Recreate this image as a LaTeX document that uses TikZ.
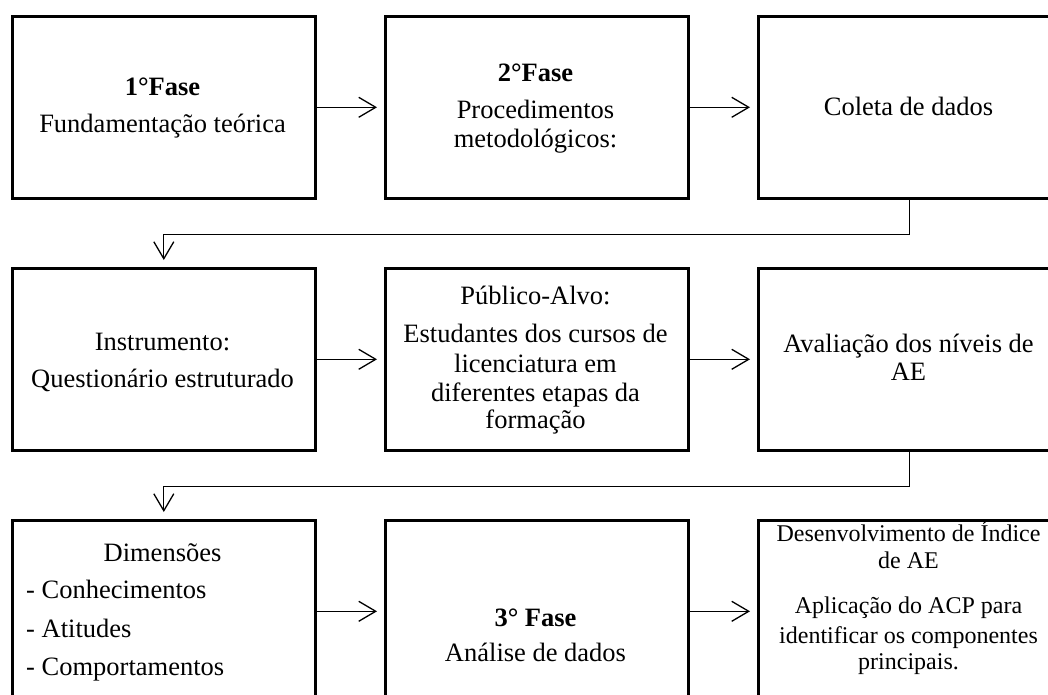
\documentclass[tikz,border=0pt]{standalone}
\usepackage{fontspec}
\setmainfont{Liberation Serif}
\usetikzlibrary{arrows.meta}
\begin{document}
\begin{tikzpicture}[x=1pt,y=-1pt,
 box/.style={draw, line width=2.6pt, minimum width=303pt, minimum height=182pt, inner sep=0pt, anchor=north west},
 big/.style={font=\fontsize{26.5}{29}\selectfont, anchor=base, inner sep=0pt},
 small/.style={font=\fontsize{24}{27}\selectfont, anchor=base, inner sep=0pt},
 conn/.style={line width=1.3pt, -{Straight Barb[length=17pt,width=20pt,line width=1.3pt]}, shorten >=7pt}]
\useasboundingbox (0,0) rectangle (1048,695);
\fill[white] (0,0) rectangle (1048,695);
\clip (0,0) rectangle (1048,695);
% boxes
\node[box] (b1) at (11,15) {};
\node[box] (b2) at (384,15) {};
\node[box] (b3) at (757,15) {};
\node[box] (b4) at (11,267) {};
\node[box] (b5) at (384,267) {};
\node[box] (b6) at (757,267) {};
\node[box] (b7) at (11,519) {};
\node[box] (b8) at (384,519) {};
\node[box] (b9) at (757,519) {};
% texts row 1
\node[big] (t1a) at (162.5,96) {\bfseries 1°Fase};
\node[big] (t1b) at (162.5,133) {Fundamentação teórica};
\node[big] (t2a) at (535.5,82) {\bfseries 2°Fase};
\node[big] (t2b) at (535.5,119) {Procedimentos};
\node[big] (t2c) at (535.5,148) {metodológicos:};
\node[big] (t3a) at (908.5,116) {Coleta de dados};
% texts row 2
\node[big] (t4a) at (162.5,350) {Instrumento:};
\node[big] (t4b) at (162.5,387) {Questionário estruturado};
\node[big] (t5a) at (535.5,304) {Público-Alvo:};
\node[big] (t5b) at (535.5,342) {Estudantes dos cursos de};
\node[big] (t5c) at (535.5,372) {licenciatura em};
\node[big] (t5d) at (535.5,401) {diferentes etapas da};
\node[big] (t5e) at (535.5,428) {formação};
\node[big] (t6a) at (908.5,352) {Avaliação dos níveis de};
\node[big] (t6b) at (908.5,380) {AE};
% texts row 3
\node[big] (t7a) at (162.5,561) {Dimensões};
\node[big,anchor=base west] (t7b) at (26,598) {- Conhecimentos};
\node[big,anchor=base west] (t7c) at (26,637) {- Atitudes};
\node[big,anchor=base west] (t7d) at (26,675) {- Comportamentos};
\node[big] (t8a) at (535.5,626) {\bfseries 3° Fase};
\node[big] (t8b) at (535.5,661) {Análise de dados};
\node[small] (t9a) at (908.5,541) {Desenvolvimento de Índice};
\node[small] (t9b) at (908.5,568) {de AE};
\node[small] (t9c) at (908.5,613) {Aplicação do ACP para};
\node[small] (t9d) at (908.5,643) {identificar os componentes};
\node[small] (t9e) at (908.5,669) {principais.};
% connectors
\draw[conn] (b1.east) -- (b2.west);
\draw[conn] (b2.east) -- (b3.west);
\draw[conn] (b4.east) -- (b5.west);
\draw[conn] (b5.east) -- (b6.west);
\draw[conn] (b7.east) -- (b8.west);
\draw[conn] (b8.east) -- (b9.west);
\draw[conn] (b3.south) -- ++(0,35) -| (b4.north);
\draw[conn] (b6.south) -- ++(0,35) -| (b7.north);
\end{tikzpicture}
\end{document}
